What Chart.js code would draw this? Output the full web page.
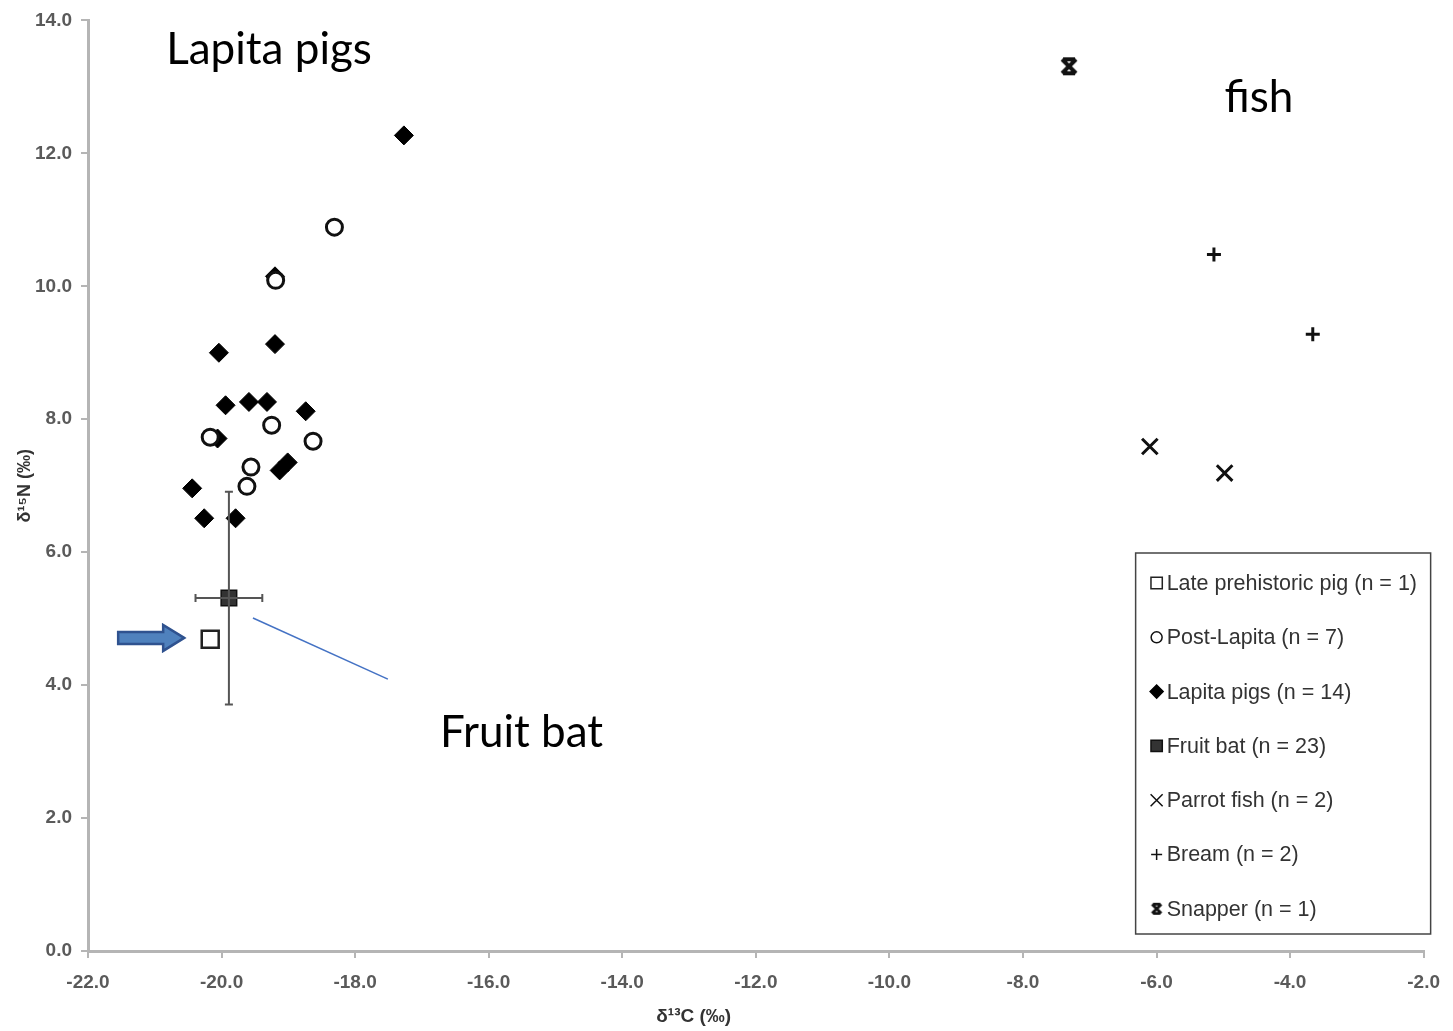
<!DOCTYPE html>
<html>
<head>
<meta charset="utf-8">
<script src="https://cdn.jsdelivr.net/npm/chart.js@4.4.0/dist/chart.umd.min.js"></script>
<style>
  html, body { margin: 0; padding: 0; background: #fff; }
  #wrap { width: 1453px; height: 1031px; }
</style>
</head>
<body>
<div id="wrap"><canvas id="chart"></canvas></div>
<script>
// axis ranges
const xMin = -22, xMax = -2, xStep = 2;
const yMin = 0, yMax = 14, yStep = 2;

// series values (d13C, d15N)
const latePigX = [-20.17];
const latePigY = [4.69];

const postLapitaX = [-18.31, -19.19, -20.17, -19.25, -18.63, -19.56, -19.62];
const postLapitaY = [10.89, 10.09, 7.73, 7.91, 7.67, 7.28, 6.99];

const lapitaX = [-17.27, -19.20, -19.20, -20.04, -19.94, -19.59, -19.32, -18.74, -20.06, -19.13, -19.01, -20.44, -20.26, -19.79];
const lapitaY = [12.27, 10.15, 9.13, 9.00, 8.21, 8.26, 8.26, 8.12, 7.71, 7.23, 7.35, 6.96, 6.51, 6.51];

const fruitBatX = [-19.89];
const fruitBatY = [5.31];
const fruitBatErrX = [0.5];
const fruitBatErrY = [1.6];

const parrotX = [-6.10, -4.98];
const parrotY = [7.59, 7.19];

const breamX = [-5.14, -3.66];
const breamY = [10.48, 9.28];

const snapperX = [-7.31];
const snapperY = [13.31];

const legendLabels = [
  'Late prehistoric pig (n = 1)',
  'Post-Lapita (n = 7)',
  'Lapita pigs (n = 14)',
  'Fruit bat (n = 23)',
  'Parrot fish (n = 2)',
  'Bream (n = 2)',
  'Snapper (n = 1)'
];

const xTitle = 'δ¹³C (‰)';
const yTitle = 'δ¹⁵N (‰)';

const zip = (xs, ys) => xs.map((x, i) => ({ x, y: ys[i] }));

// snapper marker: x closed by short bars top and bottom
const makeSnapper = (size, lw) => {
  const c = document.createElement('canvas');
  c.width = size; c.height = size;
  const g = c.getContext('2d');
  g.strokeStyle = '#111';
  g.lineWidth = lw;
  const p = lw / 2 + 1;
  g.beginPath();
  g.moveTo(p, p); g.lineTo(size - p, size - p);
  g.moveTo(size - p, p); g.lineTo(p, size - p);
  g.moveTo(p + 1, p); g.lineTo(size - p - 1, p);
  g.moveTo(p + 1, size - p); g.lineTo(size - p - 1, size - p);
  g.stroke();
  return c;
};
const snapperBig = makeSnapper(20, 4);
const snapperSmall = makeSnapper(14, 2.8);

const datasets = [
  { label: legendLabels[0], data: zip(latePigX, latePigY), pointStyle: 'rect', pointRadius: 12,
    backgroundColor: '#fff', borderColor: '#222', borderWidth: 2.5, legendRadius: 8 },
  { label: legendLabels[1], data: zip(postLapitaX, postLapitaY), pointStyle: 'circle', pointRadius: 8,
    backgroundColor: '#fff', borderColor: '#111', borderWidth: 3, legendRadius: 5.5 },
  { label: legendLabels[2], data: zip(lapitaX, lapitaY), pointStyle: 'rectRot', pointRadius: 9.5,
    backgroundColor: '#000', borderColor: '#000', borderWidth: 1, legendRadius: 6.5 },
  { label: legendLabels[3], data: zip(fruitBatX, fruitBatY), pointStyle: 'rect', pointRadius: 11,
    backgroundColor: '#333', borderColor: '#111', borderWidth: 1.5, legendRadius: 8 },
  { label: legendLabels[4], data: zip(parrotX, parrotY), pointStyle: 'crossRot', pointRadius: 11,
    backgroundColor: '#111', borderColor: '#111', borderWidth: 3, legendRadius: 8.5 },
  { label: legendLabels[5], data: zip(breamX, breamY), pointStyle: 'cross', pointRadius: 7,
    backgroundColor: '#111', borderColor: '#111', borderWidth: 3, legendRadius: 5.5 },
  { label: legendLabels[6], data: zip(snapperX, snapperY), pointStyle: snapperBig, pointRadius: 10,
    backgroundColor: '#111', borderColor: '#111', borderWidth: 3, legendStyle: snapperSmall }
];

// error bars for the fruit bat mean
const errorBars = {
  id: 'errorBars',
  afterDatasetsDraw(chart) {
    const { ctx, scales: { x, y } } = chart;
    ctx.save();
    ctx.strokeStyle = '#555';
    ctx.lineWidth = 2;
    fruitBatX.forEach((vx, i) => {
      const vy = fruitBatY[i];
      const cx = x.getPixelForValue(vx), cy = y.getPixelForValue(vy);
      const l = x.getPixelForValue(vx - fruitBatErrX[i]), r = x.getPixelForValue(vx + fruitBatErrX[i]);
      const t = y.getPixelForValue(vy + fruitBatErrY[i]), b = y.getPixelForValue(vy - fruitBatErrY[i]);
      ctx.beginPath();
      ctx.moveTo(l, cy); ctx.lineTo(r, cy);
      ctx.moveTo(cx, t); ctx.lineTo(cx, b);
      ctx.moveTo(l, cy - 4); ctx.lineTo(l, cy + 4);
      ctx.moveTo(r, cy - 4); ctx.lineTo(r, cy + 4);
      ctx.moveTo(cx - 4, t); ctx.lineTo(cx + 4, t);
      ctx.moveTo(cx - 4, b); ctx.lineTo(cx + 4, b);
      ctx.stroke();
    });
    ctx.restore();
  }
};

// slide annotations: labels, pointer line, arrow, x title
const notes = {
  id: 'notes',
  afterDraw(chart) {
    const { ctx, scales: { x, y } } = chart;
    ctx.save();
    ctx.fillStyle = '#000';
    ctx.font = '44px Lato, "Open Sans", sans-serif';
    ctx.textBaseline = 'middle';
    ctx.textAlign = 'left';
    ctx.fillText('Lapita pigs', x.getPixelForValue(-20.83), y.getPixelForValue(13.55));
    ctx.fillText('fish', x.getPixelForValue(-4.98), y.getPixelForValue(12.83));
    ctx.fillText('Fruit bat', x.getPixelForValue(-16.73), y.getPixelForValue(3.28));

    ctx.strokeStyle = '#4472c4';
    ctx.lineWidth = 1.5;
    ctx.beginPath();
    ctx.moveTo(x.getPixelForValue(-19.53), y.getPixelForValue(5.01));
    ctx.lineTo(x.getPixelForValue(-17.51), y.getPixelForValue(4.09));
    ctx.stroke();

    // block arrow pointing at the late prehistoric pig
    const tx = x.getPixelForValue(-20.56), ty = y.getPixelForValue(4.71);
    ctx.beginPath();
    ctx.moveTo(tx, ty);
    ctx.lineTo(tx - 21, ty - 13);
    ctx.lineTo(tx - 21, ty - 6);
    ctx.lineTo(tx - 66, ty - 6);
    ctx.lineTo(tx - 66, ty + 6);
    ctx.lineTo(tx - 21, ty + 6);
    ctx.lineTo(tx - 21, ty + 13);
    ctx.closePath();
    ctx.fillStyle = '#4f81bd';
    ctx.fill();
    ctx.strokeStyle = '#2f528f';
    ctx.lineWidth = 2.5;
    ctx.stroke();

    // x axis title sits left of centre in the original
    ctx.fillStyle = '#333';
    ctx.font = 'bold 19px "Liberation Sans", Arial, sans-serif';
    ctx.textAlign = 'center';
    ctx.fillText(xTitle, x.getPixelForValue(-12.93), chart.height - 14);
    ctx.restore();
  }
};

// boxed legend inside the plot, bottom right
const boxLegend = {
  id: 'boxLegend',
  afterDraw(chart) {
    const { ctx, chartArea } = chart;
    const bx = chartArea.right - 288, by = chartArea.bottom - 398;
    const bw = 295, bh = 381;
    ctx.save();
    ctx.fillStyle = '#fff';
    ctx.fillRect(bx, by, bw, bh);
    ctx.strokeStyle = '#444';
    ctx.lineWidth = 1.5;
    ctx.strokeRect(bx, by, bw, bh);
    ctx.font = '21.5px "Liberation Sans", Arial, sans-serif';
    ctx.textBaseline = 'middle';
    ctx.textAlign = 'left';
    chart.data.datasets.forEach((ds, i) => {
      const cy = by + 30 + i * 54.3;
      const mx = bx + 21;
      ctx.fillStyle = ds.backgroundColor;
      ctx.strokeStyle = ds.borderColor;
      Chart.helpers.drawPoint(ctx, {
        pointStyle: ds.legendStyle || ds.pointStyle,
        radius: ds.legendRadius || 6,
        borderWidth: Math.min(ds.borderWidth, 2.4),
        rotation: 0
      }, mx, cy);
      ctx.fillStyle = '#333';
      ctx.fillText(ds.label, bx + 31, cy + 1);
    });
    ctx.restore();
  }
};

const axisFont = { family: '"Liberation Sans", Arial, sans-serif', size: 19, weight: 'bold' };

new Chart(document.getElementById('chart'), {
  type: 'scatter',
  data: { datasets },
  plugins: [errorBars, notes, boxLegend],
  options: {
    responsive: true,
    maintainAspectRatio: false,
    animation: false,
    layout: { padding: { top: 20, right: 28, bottom: 0, left: 0 } },
    plugins: {
      legend: { display: false },
      tooltip: { enabled: false }
    },
    scales: {
      x: {
        type: 'linear',
        min: xMin, max: xMax,
        ticks: { stepSize: xStep, color: '#5a5a5a', font: axisFont, padding: 13,
          callback: v => v.toFixed(1) },
        grid: { drawOnChartArea: false, drawTicks: true, tickLength: 7, color: '#b5b5b5', lineWidth: 2 },
        border: { color: '#b5b5b5', width: 3 },
        afterFit: s => { s.height = 80; }
      },
      y: {
        type: 'linear',
        min: yMin, max: yMax,
        ticks: { stepSize: yStep, color: '#5a5a5a', font: axisFont, padding: 9,
          callback: v => v.toFixed(1) },
        grid: { drawOnChartArea: false, drawTicks: true, tickLength: 7, color: '#b5b5b5', lineWidth: 2 },
        border: { color: '#b5b5b5', width: 3 },
        title: { display: true, text: yTitle, color: '#333',
          font: { family: '"Liberation Sans", Arial, sans-serif', size: 18, weight: 'bold' }, padding: { top: 14, bottom: 0 } },
        afterFit: s => { s.width = 88; }
      }
    }
  }
});
</script>
</body>
</html>
